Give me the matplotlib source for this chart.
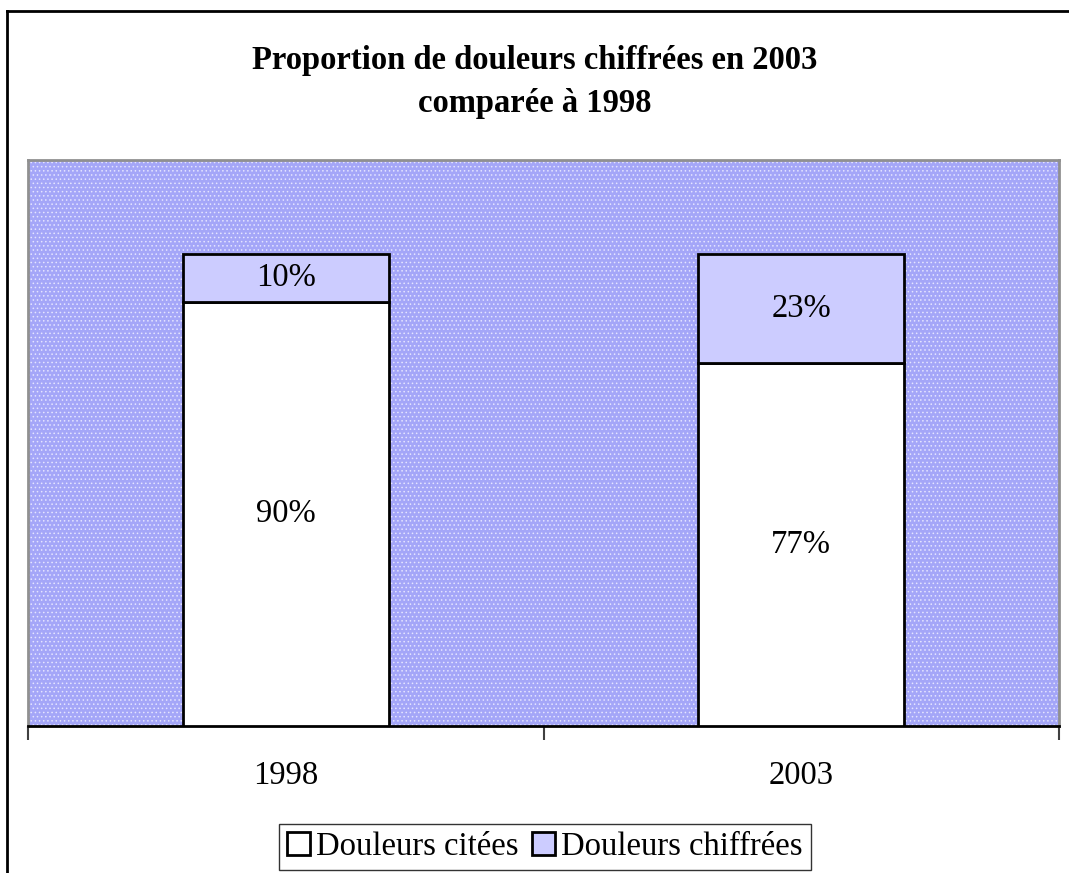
import matplotlib
matplotlib.use("Agg")
import matplotlib.pyplot as plt
from matplotlib.patches import Rectangle
from matplotlib.lines import Line2D

# Data
years = ["1998", "2003"]
citees = [90, 77]       # Douleurs citées (%)
chiffrees = [10, 23]    # Douleurs chiffrées (%)
series_names = ["Douleurs citées", "Douleurs chiffrées"]
title = "Proportion de douleurs chiffrées en 2003\ncomparée à 1998"

plt.rcParams["font.family"] = ["Liberation Serif", "DejaVu Serif"]
plt.rcParams["hatch.linewidth"] = 0.6
FS = 23.5

W, H = 1069, 873
fig = plt.figure(figsize=(W / 100, H / 100), dpi=100)
fig.patch.set_facecolor("white")

# outer chart frame (left and top edges visible)
fig.add_artist(Line2D([7 / W, 7 / W], [0, 1 - 11 / H], transform=fig.transFigure,
                      color="black", lw=2))
fig.add_artist(Line2D([7 / W, 1], [1 - 11 / H, 1 - 11 / H], transform=fig.transFigure,
                      color="black", lw=2))

ax = fig.add_axes([28 / W, 1 - 726 / H, (1059 - 28) / W, (726 - 160) / H])
ax.set_facecolor("#b0b2f6")
# textured background
ax.add_patch(Rectangle((0, 0), 1, 1, transform=ax.transAxes, facecolor="#a4a6f8",
                       edgecolor="#e4e4ff", hatch="....", lw=0, zorder=0))

x = list(range(len(years)))
b1 = ax.bar(x, citees, width=0.4, color="white", edgecolor="black", lw=2, zorder=3,
            label=series_names[0])
b2 = ax.bar(x, chiffrees, width=0.4, bottom=citees, color="#ccccff", edgecolor="black",
            lw=2, zorder=3, label=series_names[1])

for i in x:
    ax.text(i, citees[i] / 2, f"{citees[i]}%", ha="center", va="center", fontsize=FS, zorder=4)
    ax.text(i, citees[i] + chiffrees[i] / 2, f"{chiffrees[i]}%", ha="center", va="center",
            fontsize=FS, zorder=4)

ax.set_xlim(-0.5, len(years) - 0.5)
ax.set_ylim(0, 120)
ax.set_yticks([])
ax.set_xticks(x)
ax.set_xticklabels(years, fontsize=FS)
ax.tick_params(axis="x", which="major", length=0, pad=25)
ax.set_xticks([-0.5, 0.5, 1.5], minor=True)
ax.tick_params(axis="x", which="minor", length=10, width=1.5, color="#404040", direction="out")

for side in ["left", "top", "right"]:
    ax.spines[side].set_color("#909090")
    ax.spines[side].set_linewidth(2)
ax.spines["bottom"].set_color("black")
ax.spines["bottom"].set_linewidth(2)

fig.text(0.5, 1 - 82 / H, title, ha="center", va="center", fontsize=FS,
         fontweight="bold", linespacing=1.5)

leg = fig.legend(handles=[b1, b2], labels=series_names, loc="center",
                 bbox_to_anchor=(545 / W, 1 - 847 / H), ncol=2, fontsize=FS,
                 frameon=True, fancybox=False, edgecolor="black", handlelength=0.7,
                 handleheight=0.7, handletextpad=0.2, columnspacing=0.4,
                 borderpad=0.25, borderaxespad=0)
leg.get_frame().set_linewidth(1)

fig.savefig("out.png", dpi=100)
